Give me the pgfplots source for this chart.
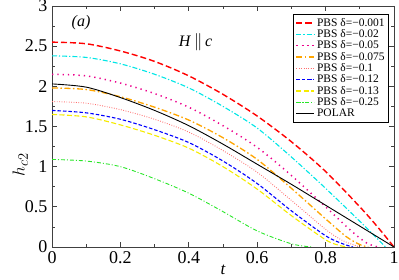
\documentclass[border=0pt]{standalone}
\usepackage{pgfplots}
\pgfplotsset{compat=1.18}
\usepackage{fontspec}
\setmainfont{Liberation Serif}
\definecolor{cOrange}{RGB}{255,165,0}
\definecolor{cPink}{RGB}{255,110,110}
\definecolor{cYellow}{RGB}{245,235,0}
\definecolor{cGreen}{RGB}{40,230,40}
\definecolor{cCyan}{RGB}{0,230,230}
\begin{document}
\begin{tikzpicture}
\useasboundingbox (-52pt,-33pt) rectangle (347pt,247pt);
\begin{axis}[
  scale only axis, width=342pt, height=241pt,
  anchor=south west, at={(0pt,0pt)},
  xmin=0, xmax=1, ymin=0, ymax=3,
  xtick={0,0.2,0.4,0.6,0.8,1}, minor xtick={0.1,0.3,0.5,0.7,0.9},
  ytick={0,0.5,1,1.5,2,2.5,3}, minor ytick={0.25,0.75,1.25,1.75,2.25,2.75},
  xticklabels={0,0.2,0.4,0.6,0.8,1},
  yticklabels={0,0.5,1,1.5,2,2.5,3},
  /pgf/number format/assume math mode=true,
  tick align=inside, major tick length=5pt, minor tick length=3pt,
  axis line style={black!75, line width=0.9pt},
  every tick/.style={black!75, line width=0.8pt},
  ticklabel style={font=\fontsize{18}{18}\selectfont},
  xticklabel style={yshift=-1pt},
  yticklabel style={xshift=-1pt},
  xlabel={\fontsize{17}{17}\selectfont\itshape t},
  ylabel={\fontsize{19}{19}\selectfont$h_{c2}$},
  xlabel style={at={(axis description cs:0.5,0)}, anchor=center, yshift=-23pt},
  ylabel style={at={(axis description cs:-0.093,0.34)}, anchor=center},
  legend style={at={(axis cs:0.985,2.9)}, anchor=north east,
    font=\fontsize{11.5}{11.5}\selectfont, row sep=-2.2pt, inner sep=2pt,
    cells={anchor=west}},
  legend image code/.code={\draw[mark repeat=2,mark phase=2,#1] plot coordinates {(0pt,0pt) (9pt,0pt) (18pt,0pt)};},
]
\addplot[smooth, color=red, dash pattern=on 6pt off 3pt, line width=1.4pt] coordinates {(0,2.55) (0.1,2.53) (0.2,2.44) (0.3,2.31) (0.4,2.13) (0.5,1.90) (0.6,1.63) (0.7,1.31) (0.8,0.94) (0.9,0.50) (0.95,0.26) (1.0,0)};
\addlegendentry{PBS δ=−0.001}
\addplot[smooth, color=cCyan, dash pattern=on 5pt off 2pt on 1.2pt off 2pt, line width=1.1pt] coordinates {(0,2.38) (0.1,2.36) (0.2,2.28) (0.3,2.15) (0.4,1.98) (0.5,1.75) (0.6,1.48) (0.7,1.12) (0.8,0.73) (0.9,0.32) (0.95,0.11) (0.975,0)};
\addlegendentry{PBS δ=−0.02}
\addplot[smooth, color=magenta, dash pattern=on 1.3pt off 4pt, line width=1.5pt] coordinates {(0,2.15) (0.1,2.13) (0.2,2.04) (0.3,1.91) (0.4,1.74) (0.5,1.51) (0.6,1.24) (0.7,0.89) (0.8,0.50) (0.875,0.20) (0.92,0.05) (0.953,0)};
\addlegendentry{PBS δ=−0.05}
\addplot[smooth, color=cOrange, dash pattern=on 6pt off 2.5pt on 1.5pt off 2.5pt, line width=1.3pt] coordinates {(0,1.98) (0.1,1.96) (0.2,1.87) (0.3,1.74) (0.4,1.58) (0.5,1.36) (0.6,1.09) (0.7,0.73) (0.8,0.35) (0.86,0.13) (0.9,0.03) (0.925,0)};
\addlegendentry{PBS δ=−0.075}
\addplot[smooth, color=cPink, dash pattern=on 0.8pt off 1.6pt, line width=0.9pt] coordinates {(0,1.81) (0.1,1.79) (0.2,1.71) (0.3,1.59) (0.4,1.43) (0.5,1.20) (0.6,0.93) (0.7,0.58) (0.8,0.22) (0.85,0.08) (0.9,0)};
\addlegendentry{PBS δ=−0.1}
\addplot[smooth, color=blue, dash pattern=on 3.5pt off 2pt, line width=1.1pt] coordinates {(0,1.70) (0.1,1.67) (0.2,1.59) (0.3,1.46) (0.4,1.30) (0.5,1.07) (0.6,0.79) (0.7,0.45) (0.8,0.14) (0.85,0.04) (0.88,0)};
\addlegendentry{PBS δ=−0.12}
\addplot[smooth, color=cYellow, dash pattern=on 5pt off 2.5pt, line width=1.1pt] coordinates {(0,1.65) (0.1,1.62) (0.2,1.52) (0.3,1.39) (0.4,1.23) (0.5,1.00) (0.6,0.72) (0.7,0.39) (0.8,0.09) (0.84,0.02) (0.865,0)};
\addlegendentry{PBS δ=−0.13}
\addplot[smooth, color=cGreen, dash pattern=on 4pt off 2pt on 1pt off 2pt, line width=0.9pt] coordinates {(0,1.09) (0.1,1.07) (0.2,1.00) (0.3,0.85) (0.4,0.67) (0.5,0.44) (0.6,0.20) (0.7,0.04) (0.76,0)};
\addlegendentry{PBS δ=−0.25}
\addplot[smooth, color=black, solid, line width=0.9pt] coordinates {(0,2.03) (0.1,1.99) (0.2,1.86) (0.3,1.70) (0.4,1.51) (0.5,1.28) (0.6,1.03) (0.7,0.78) (0.8,0.52) (0.9,0.26) (1,0)};
\addlegendentry{POLAR}
\node[font=\fontsize{16}{16}\selectfont\itshape] at (axis cs:0.085,2.79) {(a)};
\node[font=\fontsize{16}{16}\selectfont] at (axis cs:0.42,2.55) {\textit{H}\,$\|$\,\textit{c}};
\end{axis}
\end{tikzpicture}
\end{document}
